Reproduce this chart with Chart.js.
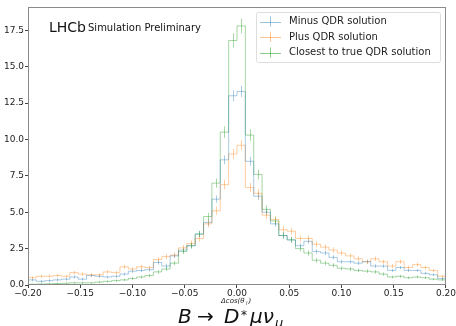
<!DOCTYPE html>
<html>
<head>
<meta charset="utf-8">
<script src="https://cdn.jsdelivr.net/npm/chart.js@4"></script>
<style>
    html, body { margin: 0; padding: 0; background: #fff; }
    #wrap { width: 456px; height: 326px; }
</style>
</head>
<body>
<div id="wrap"><canvas id="chart" width="456" height="326"></canvas></div>
<script>
// Histogram of delta cos(theta_l), 50 bins of width 0.008 on [-0.2, 0.2]
const binLow = -0.2;
const binWidth = 0.008;

const seriesLabels = ['Minus QDR solution', 'Plus QDR solution', 'Closest to true QDR solution'];

const minusQdr = [
    0.35, 0.25, 0.3, 0.35, 0.4, 0.55, 0.4, 0.65, 0.6, 0.55,
    0.6, 0.75, 0.95, 1.0, 1.05, 1.55, 1.3, 2.0, 2.4, 2.7,
    3.5, 4.3, 5.9, 8.6, 13.0, 13.3, 8.5, 6.1, 5.0, 4.2,
    3.4, 3.1, 2.7, 3.0, 2.3, 2.2, 1.9, 1.6, 1.6, 1.5,
    1.6, 1.3, 1.3, 1.0, 1.2, 1.0, 1.0, 0.8, 0.7, 0.45
];
const plusQdr = [
    0.5, 0.6, 0.6, 0.65, 0.6, 0.85, 0.75, 0.7, 0.7, 0.9,
    0.85, 1.25, 1.1, 1.25, 1.2, 1.75, 1.95, 2.05, 2.55, 2.85,
    3.2, 4.2, 5.1, 6.9, 9.0, 9.6, 6.7, 6.3, 4.8, 4.5,
    3.8, 3.7, 3.2, 3.2, 2.8, 2.6, 2.4, 2.2, 2.0, 1.8,
    1.6, 1.8, 1.6, 1.3, 1.6, 1.2, 1.4, 1.2, 1.0, 0.6
];
const closestQdr = [
    0.05, 0.07, 0.08, 0.1, 0.12, 0.15, 0.15, 0.15, 0.2, 0.25,
    0.3, 0.35, 0.45, 0.55, 0.65, 0.9, 1.1, 1.5, 2.3, 2.7,
    3.5, 4.7, 7.0, 10.5, 16.8, 17.8, 10.3, 7.6, 5.2, 4.4,
    3.4, 3.1, 2.5, 2.2, 1.7, 1.5, 1.35, 1.15, 1.1, 1.0,
    0.95, 0.9, 0.75, 0.55, 0.6, 0.5, 0.55, 0.5, 0.4, 0.35
];

// error bar half heights
const minusErr = [
    0.1, 0.1, 0.1, 0.1, 0.1, 0.1, 0.1, 0.1, 0.1, 0.1,
    0.1, 0.1, 0.12, 0.12, 0.12, 0.15, 0.15, 0.15, 0.18, 0.18,
    0.2, 0.22, 0.25, 0.3, 0.38, 0.38, 0.3, 0.25, 0.22, 0.2,
    0.18, 0.18, 0.17, 0.17, 0.15, 0.15, 0.14, 0.13, 0.13, 0.12,
    0.13, 0.12, 0.12, 0.1, 0.11, 0.1, 0.1, 0.1, 0.09, 0.08
];
const plusErr = [
    0.1, 0.11, 0.11, 0.11, 0.11, 0.12, 0.12, 0.11, 0.11, 0.12,
    0.12, 0.14, 0.13, 0.14, 0.14, 0.17, 0.18, 0.18, 0.2, 0.21,
    0.22, 0.25, 0.28, 0.32, 0.35, 0.36, 0.32, 0.3, 0.27, 0.26,
    0.24, 0.24, 0.22, 0.22, 0.2, 0.2, 0.19, 0.18, 0.17, 0.16,
    0.15, 0.16, 0.15, 0.14, 0.15, 0.13, 0.14, 0.13, 0.12, 0.1
];
const closestErr = [
    0.04, 0.04, 0.05, 0.05, 0.05, 0.06, 0.06, 0.06, 0.07, 0.07,
    0.08, 0.08, 0.1, 0.1, 0.11, 0.12, 0.13, 0.15, 0.18, 0.2,
    0.22, 0.26, 0.32, 0.4, 0.5, 0.5, 0.4, 0.33, 0.27, 0.25,
    0.22, 0.21, 0.19, 0.18, 0.16, 0.15, 0.14, 0.13, 0.13, 0.12,
    0.12, 0.12, 0.11, 0.09, 0.1, 0.09, 0.09, 0.09, 0.08, 0.07
];

const xTicks = [-0.2, -0.15, -0.1, -0.05, 0, 0.05, 0.1, 0.15, 0.2];
const yTickStep = 2.5;
const yMax = 19.1;

const colors = [
    'rgba(31, 119, 180, 0.38)',
    'rgba(255, 127, 14, 0.38)',
    'rgba(44, 160, 44, 0.42)'
];
const legendColors = [
    'rgba(31, 119, 180, 0.45)',
    'rgba(255, 127, 14, 0.45)',
    'rgba(44, 160, 44, 0.55)'
];

const FONT = '"DejaVu Sans", sans-serif';

// step outline: one point per bin edge, last bin repeated to close at x = 0.2
function stepPoints(values) {
    const pts = values.map((v, i) => ({ x: binLow + binWidth * i, y: v }));
    pts.push({ x: binLow + binWidth * values.length, y: values[values.length - 1] });
    return pts;
}

function fmtTick(v) {
    let s = Math.abs(v) < 1e-9 ? '0.00' : v.toFixed(2);
    return s.replace('-', '\u2212');
}

// vertical error bars at the bin centres
const errorBars = {
    id: 'errorBars',
    afterDatasetsDraw(chart) {
        const { ctx, scales: { x, y } } = chart;
        const errs = [minusErr, plusErr, closestErr];
        const vals = [minusQdr, plusQdr, closestQdr];
        ctx.save();
        ctx.beginPath();
        ctx.rect(chart.chartArea.left, chart.chartArea.top, chart.chartArea.width, chart.chartArea.height);
        ctx.clip();
        ctx.lineWidth = 1;
        vals.forEach((arr, k) => {
            ctx.strokeStyle = colors[k];
            arr.forEach((v, i) => {
                const cx = Math.round(x.getPixelForValue(binLow + binWidth * (i + 0.5))) + 0.5;
                ctx.beginPath();
                ctx.moveTo(cx, y.getPixelForValue(v - errs[k][i]));
                ctx.lineTo(cx, y.getPixelForValue(v + errs[k][i]));
                ctx.stroke();
            });
        });
        ctx.restore();
    }
};

// frame, legend, labels
const decorations = {
    id: 'decorations',
    afterDraw(chart) {
        const { ctx, chartArea: a, scales: { x } } = chart;
        ctx.save();

        // axes frame
        ctx.strokeStyle = '#8a8a8a';
        ctx.lineWidth = 1;
        ctx.strokeRect(a.left + 0.5, a.top + 0.5, a.width - 1, a.height - 1);

        // LHCb label
        ctx.fillStyle = '#111';
        ctx.textBaseline = 'alphabetic';
        ctx.textAlign = 'left';
        ctx.font = '14px ' + FONT;
        ctx.fillText('LHCb', 49, 32);
        ctx.font = '10px ' + FONT;
        ctx.fillText('Simulation Preliminary', 88, 31);

        // legend box
        const lx = 256, ly = 12, lw = 184, lh = 50;
        ctx.fillStyle = 'rgba(255,255,255,0.85)';
        ctx.strokeStyle = '#dddddd';
        ctx.beginPath();
        ctx.roundRect(lx + 0.5, ly + 0.5, lw, lh, 2);
        ctx.fill();
        ctx.stroke();
        ctx.font = '10px ' + FONT;
        ctx.textBaseline = 'middle';
        seriesLabels.forEach((label, k) => {
            const yy = 21.5 + k * 15.5;
            ctx.strokeStyle = legendColors[k];
            ctx.beginPath();
            ctx.moveTo(260, Math.round(yy) + 0.5);
            ctx.lineTo(281, Math.round(yy) + 0.5);
            ctx.moveTo(270.5, yy - 5);
            ctx.lineTo(270.5, yy + 5);
            ctx.stroke();
            ctx.fillStyle = '#222';
            ctx.fillText(label, 289, yy);
        });

        // x axis title
        ctx.fillStyle = '#222';
        ctx.textAlign = 'left';
        ctx.textBaseline = 'alphabetic';
        const cx = x.getPixelForValue(0);
        ctx.font = 'italic 7px ' + FONT;
        ctx.fillText('\u0394cos(\u03b8', cx - 16, 303);
        ctx.font = 'italic 5px ' + FONT;
        ctx.fillText('l', cx + 9, 305);
        ctx.font = 'italic 7px ' + FONT;
        ctx.fillText(')', cx + 11.5, 303);

        // decay title
        ctx.fillStyle = '#111';
        ctx.font = 'italic 20px ' + FONT;
        ctx.fillText('B', 178, 323);
        ctx.font = '20px ' + FONT;
        ctx.fillText('\u2192', 197, 323);
        ctx.font = 'italic 20px ' + FONT;
        ctx.fillText('D', 224, 323);
        ctx.font = '12px ' + FONT;
        ctx.fillText('*', 241, 319);
        ctx.font = 'italic 20px ' + FONT;
        ctx.fillText('\u03bc\u03bd', 250, 323);
        ctx.font = 'italic 13px ' + FONT;
        ctx.fillText('\u03bc', 275, 327);
        ctx.restore();
    }
};

const datasets = [minusQdr, plusQdr, closestQdr].map((vals, k) => ({
    label: seriesLabels[k],
    data: stepPoints(vals),
    borderColor: colors[k],
    borderWidth: 1,
    stepped: 'before',
    pointRadius: 0,
    fill: false
}));

new Chart(document.getElementById('chart'), {
    type: 'line',
    data: { datasets },
    options: {
        responsive: false,
        animation: false,
        events: [],
        layout: { padding: { left: 0, right: 10, top: 7, bottom: 0 } },
        plugins: { legend: { display: false }, tooltip: { enabled: false } },
        scales: {
            x: {
                type: 'linear',
                min: -0.2,
                max: 0.2,
                afterFit: (s) => { s.height = 41; },
                afterBuildTicks: (s) => { s.ticks = xTicks.map(v => ({ value: v })); },
                border: { display: false },
                grid: { drawOnChartArea: false, drawTicks: true, tickLength: 3, color: '#444' },
                ticks: {
                    color: '#222',
                    font: { family: FONT, size: 9 },
                    padding: 0,
                    maxRotation: 0,
                    callback: (v) => fmtTick(v)
                }
            },
            y: {
                min: 0,
                max: yMax,
                afterFit: (s) => { s.width = 28; },
                border: { display: false },
                grid: { drawOnChartArea: false, drawTicks: true, tickLength: 3, color: '#444' },
                ticks: {
                    stepSize: yTickStep,
                    includeBounds: false,
                    color: '#222',
                    font: { family: FONT, size: 9 },
                    padding: 1,
                    callback: (v) => v.toFixed(1)
                }
            }
        }
    },
    plugins: [errorBars, decorations]
});
</script>
</body>
</html>
